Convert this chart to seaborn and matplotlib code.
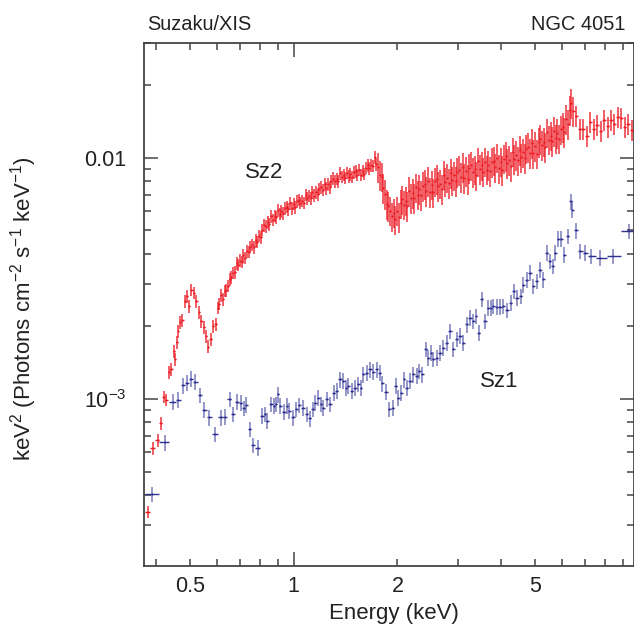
import numpy as np
import matplotlib
matplotlib.use("Agg")
import matplotlib.pyplot as plt
import seaborn as sns
from matplotlib.ticker import FixedLocator, FuncFormatter

# ---------------- data ----------------
# Sz2 (red), soft part: individual bins below 0.6 keV
sz2_energy_soft = [0.378, 0.392, 0.404, 0.412, 0.421, 0.427, 0.436, 0.442, 0.450, 0.454,
                   0.461, 0.464, 0.470, 0.476, 0.484, 0.491, 0.498, 0.506, 0.514, 0.523,
                   0.532, 0.541, 0.550, 0.559, 0.566, 0.575, 0.584, 0.595]
sz2_flux_soft = [0.000340, 0.000625, 0.000675, 0.000793, 0.00102, 0.000993, 0.00129, 0.00133, 0.00158, 0.00146,
                 0.00172, 0.00191, 0.00208, 0.00212, 0.00254, 0.00266, 0.00242, 0.00284, 0.00276, 0.00254,
                 0.00229, 0.00210, 0.00198, 0.00182, 0.00165, 0.00177, 0.00200, 0.00204]

# Sz2 (red), dense part 0.6 - 9.6 keV
sz2_energy = [0.6026, 0.6095, 0.6166, 0.6237, 0.6310, 0.6383, 0.6457, 0.6531, 0.6607, 0.6683,
              0.6761, 0.6839, 0.6918, 0.6998, 0.7079, 0.7161, 0.7244, 0.7328, 0.7413, 0.7499,
              0.7586, 0.7674, 0.7762, 0.7852, 0.7943, 0.8035, 0.8128, 0.8222, 0.8318, 0.8414,
              0.8511, 0.8610, 0.8710, 0.8810, 0.8913, 0.9016, 0.9120, 0.9226, 0.9333, 0.9441,
              0.9550, 0.9661, 0.9772, 0.9886, 1.000, 1.012, 1.023, 1.035, 1.047, 1.059,
              1.072, 1.084, 1.096, 1.109, 1.122, 1.135, 1.148, 1.161, 1.175, 1.189,
              1.202, 1.216, 1.230, 1.245, 1.259, 1.274, 1.288, 1.303, 1.318, 1.334,
              1.349, 1.365, 1.380, 1.396, 1.413, 1.429, 1.445, 1.462, 1.479, 1.496,
              1.514, 1.531, 1.549, 1.567, 1.585, 1.603, 1.622, 1.641, 1.660, 1.679,
              1.698, 1.718, 1.738, 1.758, 1.778, 1.799, 1.820, 1.841, 1.862, 1.884,
              1.905, 1.928, 1.950, 1.972, 1.995, 2.018, 2.042, 2.065, 2.089, 2.113,
              2.138, 2.163, 2.188, 2.213, 2.239, 2.265, 2.291, 2.317, 2.344, 2.371,
              2.399, 2.427, 2.455, 2.483, 2.512, 2.541, 2.570, 2.600, 2.630, 2.661,
              2.692, 2.723, 2.754, 2.786, 2.818, 2.851, 2.884, 2.917, 2.951, 2.985,
              3.020, 3.055, 3.090, 3.126, 3.162, 3.199, 3.236, 3.273, 3.311, 3.350,
              3.388, 3.428, 3.467, 3.508, 3.548, 3.589, 3.631, 3.673, 3.715, 3.758,
              3.802, 3.846, 3.890, 3.936, 3.981, 4.027, 4.074, 4.121, 4.169, 4.217,
              4.266, 4.315, 4.365, 4.416, 4.467, 4.519, 4.571, 4.624, 4.677, 4.732,
              4.786, 4.842, 4.898, 4.955, 5.012, 5.070, 5.129, 5.188, 5.248, 5.309,
              5.370, 5.433, 5.495, 5.559, 5.623, 5.689, 5.754, 5.821, 5.888, 5.957,
              6.026, 6.095, 6.166, 6.237, 6.310, 6.383, 6.457,
              6.607, 6.761, 6.918, 7.079, 7.244, 7.413, 7.586, 7.762, 7.943, 8.128,
              8.318, 8.511, 8.710, 8.913, 9.120, 9.333, 9.550]
sz2_flux = [0.00239, 0.00248, 0.00269, 0.00259, 0.00281, 0.00282, 0.00295, 0.00313, 0.00319, 0.00334,
            0.00335, 0.00365, 0.00360, 0.00375, 0.00371, 0.00395, 0.00385, 0.00409, 0.00408, 0.00428,
            0.00436, 0.00426, 0.00455, 0.00449, 0.00475, 0.00468, 0.00502, 0.00526, 0.00521, 0.00540,
            0.00531, 0.00572, 0.00554, 0.00575, 0.00568, 0.00607, 0.00586, 0.00601, 0.00588, 0.00618,
            0.00626, 0.00613, 0.00647, 0.00618, 0.00645, 0.00623, 0.00660, 0.00670, 0.00651, 0.00664,
            0.00650, 0.00701, 0.00680, 0.00696, 0.00681, 0.00718, 0.00697, 0.00720, 0.00706, 0.00743,
            0.00755, 0.00737, 0.00780, 0.00746, 0.00778, 0.00755, 0.00803, 0.00820, 0.00800, 0.00817,
            0.00801, 0.00864, 0.00834, 0.00849, 0.00826, 0.00867, 0.00836, 0.00856, 0.00834, 0.00871,
            0.00878, 0.00851, 0.00893, 0.00850, 0.00884, 0.00857, 0.00910, 0.00929, 0.00905, 0.00930,
            0.00926, 0.01004, 0.00940, 0.00914, 0.00848, 0.00835, 0.00749, 0.00709, 0.00642, 0.00631,
            0.00604, 0.00571, 0.00592, 0.00556, 0.00604, 0.00569, 0.00647, 0.00673, 0.00639, 0.00664,
            0.00632, 0.00729, 0.00683, 0.00714, 0.00680, 0.00753, 0.00704, 0.00741, 0.00702, 0.00765,
            0.00777, 0.00728, 0.00800, 0.00722, 0.00774, 0.00718, 0.00798, 0.00816, 0.00763, 0.00781,
            0.00741, 0.00852, 0.00796, 0.00828, 0.00785, 0.00866, 0.00806, 0.00845, 0.00801, 0.00874,
            0.00889, 0.00834, 0.00916, 0.00825, 0.00881, 0.00815, 0.00906, 0.00929, 0.00873, 0.00896,
            0.00846, 0.00967, 0.00899, 0.00929, 0.00877, 0.00964, 0.00893, 0.00933, 0.00881, 0.00960,
            0.00973, 0.00913, 0.01002, 0.00903, 0.00965, 0.00892, 0.00993, 0.01017, 0.00954, 0.00978,
            0.00925, 0.01061, 0.00990, 0.01029, 0.00976, 0.01076, 0.01003, 0.01052, 0.00998, 0.01091,
            0.01111, 0.01045, 0.01152, 0.01042, 0.01119, 0.01041, 0.01165, 0.01199, 0.01131, 0.01166,
            0.01107, 0.01273, 0.01190, 0.01236, 0.01173, 0.01294, 0.01205, 0.01265, 0.01200, 0.01313,
            0.01342, 0.01280, 0.01452, 0.01378, 0.01576, 0.01690, 0.01566,
            0.01491, 0.01313, 0.01320, 0.01227, 0.01402, 0.01317, 0.01372, 0.01296, 0.01428, 0.01348,
            0.01434, 0.01378, 0.01483, 0.01466, 0.01339, 0.01377, 0.01303]

# Sz1 (blue)
sz1_energy = [0.3890, 0.4250, 0.4474, 0.4627, 0.4784, 0.4922, 0.5056, 0.5193, 0.5347, 0.5492,
              0.5701, 0.5909, 0.6152, 0.6342, 0.6532, 0.6677, 0.6873, 0.7031, 0.7187, 0.7298,
              0.7464, 0.7633, 0.7873, 0.8102, 0.8283, 0.8395, 0.8624, 0.8762, 0.8880, 0.9017,
              0.9156, 0.9386, 0.9594, 0.9705, 0.9968, 1.019, 1.037, 1.068, 1.092, 1.117,
              1.137, 1.154, 1.180, 1.199, 1.220, 1.248, 1.276, 1.310, 1.334, 1.364,
              1.394, 1.420, 1.441, 1.475, 1.508, 1.541, 1.566, 1.594, 1.630, 1.666,
              1.703, 1.742, 1.781, 1.809, 1.850, 1.895, 1.939, 1.978, 2.013, 2.049,
              2.091, 2.129, 2.176, 2.225, 2.276, 2.316, 2.362, 2.416, 2.459, 2.498,
              2.542, 2.601, 2.659, 2.718, 2.780, 2.842, 2.906, 2.972, 3.038, 3.106,
              3.177, 3.248, 3.320, 3.381, 3.443, 3.512, 3.590, 3.669, 3.729, 3.795,
              3.882, 3.968, 4.056, 4.166, 4.262, 4.357, 4.436, 4.556, 4.636, 4.742,
              4.847, 4.955, 5.069, 5.182, 5.298, 5.419, 5.540, 5.640, 5.728, 5.855,
              5.950, 6.094, 6.234, 6.373, 6.429, 6.577, 6.767, 6.997, 7.284, 7.734,
              8.453, 9.404]
sz1_flux = [0.000403, 0.000660, 0.000975, 0.000994, 0.001139, 0.001169, 0.001214, 0.001180, 0.001036, 0.000901,
            0.000838, 0.000714, 0.000838, 0.000842, 0.000997, 0.000865, 0.000975, 0.000966, 0.000915, 0.000944,
            0.000749, 0.000643, 0.000629, 0.000851, 0.000865, 0.000811, 0.000951, 0.000935, 0.000951, 0.001045,
            0.000935, 0.000887, 0.000935, 0.000892, 0.000838, 0.000907, 0.000942, 0.000921, 0.000865, 0.000830,
            0.000907, 0.000966, 0.001013, 0.000951, 0.000921, 0.000997, 0.000951, 0.001063, 0.001079, 0.001206,
            0.001187, 0.001115, 0.001132, 0.001079, 0.001115, 0.001150, 0.001115, 0.001265, 0.001285, 0.001327,
            0.001293, 0.001327, 0.001285, 0.001161, 0.001073, 0.000907, 0.000921, 0.001132, 0.001013, 0.001063,
            0.001206, 0.001115, 0.001187, 0.001265, 0.001245, 0.001305, 0.001265, 0.001610, 0.001483, 0.001556,
            0.001460, 0.001483, 0.001556, 0.001632, 0.001711, 0.001911, 0.001610, 0.001770, 0.001823, 0.001711,
            0.002037, 0.002172, 0.002102, 0.002206, 0.001883, 0.002590, 0.002102, 0.002389, 0.002389, 0.002426,
            0.002410, 0.002410, 0.002426, 0.002334, 0.002505, 0.002797, 0.002627, 0.002667, 0.002982, 0.003126,
            0.003334, 0.002934, 0.003077, 0.003440, 0.003130, 0.004034, 0.003724, 0.003552, 0.004034, 0.004609,
            0.004609, 0.003970, 0.004725, 0.006594, 0.006090, 0.005002, 0.004097, 0.004034, 0.003905, 0.003846,
            0.003905, 0.004955]

# relative 1-sigma error estimates
sz2_err_soft = 0.06
sz2_err_mid = 0.06
sz2_err_hard = 0.14
sz2_err_top = 0.10
sz1_err = 0.075

x_ticks_labelled = [0.5, 1, 2, 5]

# ---------------- style ----------------
sns.set_style("ticks")
plt.rcParams["font.family"] = ["Liberation Sans", "DejaVu Sans"]
plt.rcParams["mathtext.fontset"] = "custom"
plt.rcParams["mathtext.rm"] = "Liberation Sans"
plt.rcParams["mathtext.it"] = "Liberation Sans:italic"
plt.rcParams["mathtext.bf"] = "Liberation Sans:bold"

RED = "#ED1C24"
BLUE = "#2E3192"
AX_COL = "#444444"
TXT = "#222222"

fig = plt.figure(figsize=(6.34, 6.24), dpi=100)
ax = fig.add_axes([144 / 634, 1 - 566 / 624, 1 - 144 / 634, (566 - 42.7) / 624])
ax.set_xscale("log")
ax.set_yscale("log")


def bin_halfwidths(E):
    E = np.asarray(E, float)
    lg = np.log10(E)
    mids = (lg[1:] + lg[:-1]) / 2
    left = np.r_[lg[0] - (mids[0] - lg[0]), mids]
    right = np.r_[mids, lg[-1] + (lg[-1] - mids[-1])]
    return E - 10 ** left, 10 ** right - E


def draw_spectrum(E, F, rel, color, valpha, vlw):
    E = np.asarray(E, float)
    F = np.asarray(F, float)
    xlo, xhi = bin_halfwidths(E)
    ax.errorbar(E, F, yerr=F * rel, fmt="none", ecolor=color, alpha=valpha,
                elinewidth=vlw, capsize=0, zorder=2)
    ax.errorbar(E, F, xerr=[xlo, xhi], fmt="none", ecolor=color,
                elinewidth=1.0, capsize=0, zorder=3)
    sns.scatterplot(x=E, y=F, ax=ax, color=color, s=2, linewidth=0, zorder=4, legend=False)


# Sz1 (blue)
draw_spectrum(sz1_energy, sz1_flux, np.full(len(sz1_energy), sz1_err), BLUE, 0.5, 1.4)

# Sz2 (red)
E2 = np.r_[sz2_energy_soft, sz2_energy]
F2 = np.r_[sz2_flux_soft, sz2_flux]
rel2 = np.where(E2 < 0.6, sz2_err_soft,
                np.where(E2 < 1.75, sz2_err_mid,
                         np.where(E2 < 6.5, sz2_err_hard, sz2_err_top)))
draw_spectrum(E2, F2, rel2, RED, 0.7, 1.4)

ax.set_xlim(0.3687, 9.70)
ax.set_ylim(2.03e-4, 0.0300)

# ---------------- ticks ----------------
ax.xaxis.set_major_locator(FixedLocator([1.0]))
ax.xaxis.set_minor_locator(FixedLocator([0.4, 0.5, 0.6, 0.7, 0.8, 0.9, 2, 3, 4, 5, 6, 7, 8, 9]))


def xfmt(v, pos):
    for t in x_ticks_labelled:
        if abs(v - t) < 1e-6:
            return f"{t:g}"
    return ""


ax.xaxis.set_major_formatter(FuncFormatter(xfmt))
ax.xaxis.set_minor_formatter(FuncFormatter(xfmt))

ax.yaxis.set_major_locator(FixedLocator([1e-3, 1e-2]))
ax.yaxis.set_minor_locator(FixedLocator([k * 1e-4 for k in range(3, 10)] +
                                        [k * 1e-3 for k in range(2, 10)] +
                                        [2e-2, 3e-2]))


def yfmt(v, pos):
    if abs(v - 1e-2) < 1e-9:
        return "0.01"
    if abs(v - 1e-3) < 1e-10:
        return r"$10^{-3}$"
    return ""


ax.yaxis.set_major_formatter(FuncFormatter(yfmt))
ax.yaxis.set_minor_formatter(FuncFormatter(lambda v, p: ""))

ax.tick_params(which="both", direction="in", top=True, right=True,
               color=AX_COL, width=1.1, labelsize=15.5, labelcolor=TXT)
ax.tick_params(which="major", length=10)
ax.tick_params(which="minor", length=5)
ax.tick_params(axis="x", which="both", pad=7)
ax.tick_params(axis="y", which="both", pad=12.5)

for s in ax.spines.values():
    s.set_color(AX_COL)
    s.set_linewidth(1.3)

# ---------------- texts ----------------
fig.text(394 / 634, 1 - 619 / 624, "Energy (keV)", ha="center", va="baseline",
         fontsize=16, color=TXT)
fig.text(24 / 634, 1 - 308.5 / 624,
         r"keV$^{2}$ (Photons cm$^{-2}$ s$^{-1}$ keV$^{-1}$)",
         rotation=90, ha="center", va="center", fontsize=16, color=TXT)
fig.text(147 / 634, 1 - 25 / 624, "Suzaku/XIS", ha="left", va="center",
         fontsize=14.4, color=TXT)
fig.text(531 / 634, 1 - 25 / 624, "NGC 4051", ha="left", va="center",
         fontsize=14.4, color=TXT)
ax.text(0.821, 0.00867, "Sz2", ha="center", va="center", fontsize=16, color=TXT)
ax.text(3.94, 0.001187, "Sz1", ha="center", va="center", fontsize=16, color=TXT)

fig.savefig("out.png", dpi=100)
